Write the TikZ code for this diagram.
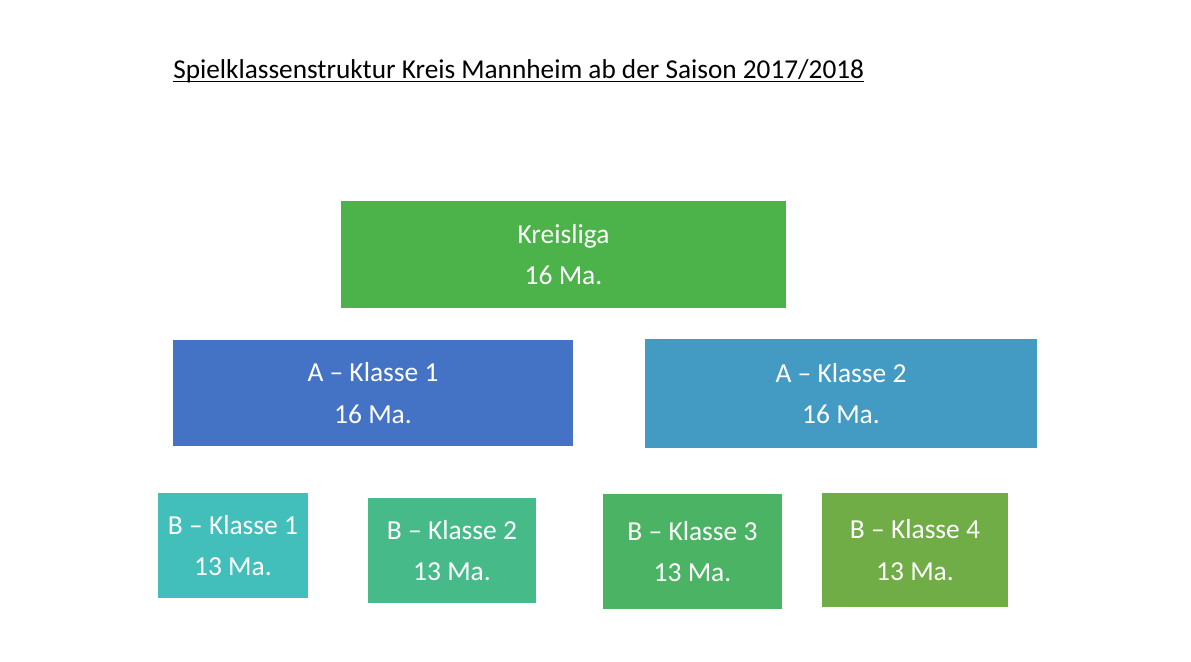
\documentclass[tikz,border=0pt]{standalone}
\usepackage{fontspec}
\setmainfont{Carlito}
\definecolor{ligagreen}{HTML}{4CB24A}
\definecolor{aone}{HTML}{4472C4}
\definecolor{atwo}{HTML}{439AC3}
\definecolor{bone}{HTML}{43BFBB}
\definecolor{btwo}{HTML}{47BA8A}
\definecolor{bthree}{HTML}{4BB364}
\definecolor{bfour}{HTML}{70AD47}
\tikzset{
  klasse/.style={rectangle, inner sep=0pt, text=white, align=center,
    font=\fontsize{20.6}{31}\selectfont}
}
\begin{document}
\begin{tikzpicture}[x=0.75pt, y=-0.75pt]
        % Canvas
        \useasboundingbox (0,0) rectangle (1191,661);

        % Title
        \node[anchor=base west, inner sep=0pt, font=\fontsize{20.45}{24}\selectfont] (titel) at (173,78) {Spielklassenstruktur Kreis Mannheim ab der Saison 2017/2018};
        \draw[line width=0.9pt] ([yshift=-2.6pt]titel.base west) -- ([yshift=-2.6pt]titel.base east);

        % Kreisliga
        \node[klasse, fill=ligagreen, minimum width=333.75pt, minimum height=80.25pt] (liga) at (563.5,254.5) {Kreisliga\\16 Ma.};

        % A-Klassen
        \node[klasse, fill=aone, minimum width=300pt, minimum height=79.5pt] (aeins) at (373,393) {A -- Klasse 1\\16 Ma.};
        \node[klasse, fill=atwo, minimum width=294pt, minimum height=81.75pt] (azwei) at (841,393.5) {A -- Klasse 2\\16 Ma.};

        % B-Klassen
        \node[klasse, fill=bone, minimum width=112.5pt, minimum height=78.75pt] (beins) at (233,545.5) {B -- Klasse 1\\13 Ma.};
        \node[klasse, fill=btwo, minimum width=126pt, minimum height=78.75pt] (bzwei) at (452,550.5) {B -- Klasse 2\\13 Ma.};
        \node[klasse, fill=bthree, minimum width=134.25pt, minimum height=86.25pt] (bdrei) at (692.5,551.5) {B -- Klasse 3\\13 Ma.};
        \node[klasse, fill=bfour, minimum width=139.5pt, minimum height=85.5pt] (bvier) at (915,550) {B -- Klasse 4\\13 Ma.};
\end{tikzpicture}
\end{document}
